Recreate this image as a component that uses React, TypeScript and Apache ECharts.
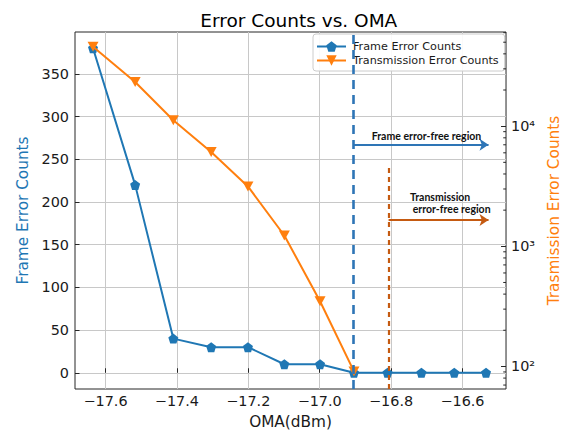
import React, { useEffect, useRef } from 'react';
import * as echarts from 'echarts';

// ---- data ----
const omaFrame = [-17.635, -17.517, -17.41, -17.304, -17.201, -17.099, -16.999, -16.904, -16.81, -16.715, -16.623, -16.534];
const frameErrors = [380, 220, 40, 30, 30, 10, 10, 0, 0, 0, 0, 0];
const omaTrans = [-17.635, -17.517, -17.41, -17.304, -17.201, -17.099, -16.999, -16.904];
const transErrors = [45900, 23300, 11200, 6090, 3150, 1230, 349, 91];

// ---- axes ----
const xTicks = [-17.6, -17.4, -17.2, -17.0, -16.8, -16.6];
const leftTicks = [0, 50, 100, 150, 200, 250, 300, 350];
const rightMajorTicks = [100, 1000, 10000];
const rightMinorTicks = [
  70, 80, 90,
  200, 300, 400, 500, 600, 700, 800, 900,
  2000, 3000, 4000, 5000, 6000, 7000, 8000, 9000,
  20000, 30000, 40000, 50000, 60000,
];
const xRange = [-17.6855, -16.478];
const leftRange = [-19, 399];
const rightRange = [64.9, 60800];

// ---- annotations (in data units) ----
const frameFreeX = [-16.905, -16.527];
const frameFreeY = 267;
const transFreeX = [-16.807, -16.527];
const transFreeY = 179;
const transDashTop = 243.6;

const BLUE = '#1f77b4';
const ORANGE = '#ff7f0e';
const ANN_BLUE = '#2e75b6';
const ANN_ORANGE = '#c55a11';
const FONT = 'DejaVu Sans';
const AXIS_DARK = '#262626';

const PENTAGON = 'path://M5,0 L10,3.8 L8.1,10 L1.9,10 L0,3.8 Z';
const TRI_DOWN = 'path://M0,0 L10,0 L5,9 Z';

const sup: Record<string, string> = { '0': '⁰', '1': '¹', '2': '²', '3': '³', '4': '⁴', '5': '⁵' };

export default function App() {
  const ref = useRef<HTMLDivElement>(null);
  useEffect(() => {
    if (!ref.current) return;
    const chart = echarts.init(ref.current, undefined, { renderer: 'svg' });
    const fmtX = (v: number) => (v < 0 ? '\u2212' : '') + Math.abs(v).toFixed(1);
    const fmtLog = (v: number) => {
      const e = Math.round(Math.log10(v));
      return '10' + String(e).split('').map((c) => sup[c]).join('');
    };
    const annText = (text: string, x: number, y: number, align: string) => ({
      type: 'text',
      x,
      y,
      z: 10,
      style: { text, align, verticalAlign: 'middle', fontFamily: 'Lato', fontWeight: 'bold', fontSize: 10.5, fill: '#111' },
    });
    const texts = [
      annText('Frame error-free region', 426.5, 136, 'center'),
      annText('Transmission', 410, 196.7, 'left'),
      annText('error-free region', 412.7, 209.3, 'left'),
    ];
    chart.setOption({
      animation: false,
      backgroundColor: '#ffffff',
      textStyle: { fontFamily: FONT },
      title: {
        text: 'Error Counts vs. OMA',
        left: 293.8,
        textAlign: 'center',
        top: 6,
        textStyle: { fontFamily: FONT, fontSize: 18.5, fontWeight: 'normal', color: '#000' },
      },
      legend: {
        orient: 'vertical',
        left: 313,
        top: 34,
        padding: [7, 6, 5, 3],
        itemGap: 3,
        itemWidth: 29,
        itemHeight: 13,
        backgroundColor: 'rgba(255,255,255,0.9)',
        borderColor: '#cccccc',
        borderWidth: 1,
        borderRadius: 3,
        textStyle: { fontFamily: FONT, fontSize: 11.2, color: '#1a1a1a', padding: [0, 0, 0, 2] },
        data: ['Frame Error Counts', 'Transmission Error Counts'],
      },
      grid: {
        left: 75,
        right: 56.3,
        top: 32,
        bottom: 43,
        show: true,
        borderColor: AXIS_DARK,
        borderWidth: 1,
        backgroundColor: 'transparent',
      },
      xAxis: {
        type: 'value',
        min: xRange[0],
        max: xRange[1],
        name: 'OMA(dBm)',
        nameLocation: 'middle',
        nameGap: 25,
        nameTextStyle: { fontFamily: FONT, fontSize: 15.3, color: '#1a1a1a' },
        axisLine: { show: false },
        axisTick: { show: true, inside: true, length: 4.5, customValues: xTicks, lineStyle: { color: AXIS_DARK } },
        axisLabel: { customValues: xTicks, formatter: fmtX, fontFamily: FONT, fontSize: 14.4, color: '#1a1a1a', margin: 5 },
        splitLine: { show: true, lineStyle: { color: '#c8c8c8', width: 1 } },
      },
      yAxis: [
        {
          type: 'value',
          min: leftRange[0],
          max: leftRange[1],
          name: 'Frame Error Counts',
          nameLocation: 'middle',
          nameGap: 45,
          nameTextStyle: { fontFamily: FONT, fontSize: 15.3, color: BLUE },
          axisLine: { show: false },
          axisTick: { show: true, inside: true, length: 4.5, customValues: leftTicks, lineStyle: { color: AXIS_DARK } },
          axisLabel: { customValues: leftTicks, fontFamily: FONT, fontSize: 14.4, color: '#1a1a1a', margin: 6 },
          splitLine: { show: true, lineStyle: { color: '#c8c8c8', width: 1 } },
        },
        {
          type: 'log',
          logBase: 10,
          position: 'right',
          min: rightRange[0],
          max: rightRange[1],
          name: 'Trasmission Error Counts',
          nameLocation: 'middle',
          nameGap: 38,
          nameRotate: 90,
          nameTextStyle: { fontFamily: FONT, fontSize: 15.3, color: ORANGE },
          axisLine: { show: false },
          axisTick: { show: true, inside: true, length: 5, customValues: rightMajorTicks, lineStyle: { color: AXIS_DARK } },
          axisLabel: {
            customValues: rightMajorTicks,
            formatter: fmtLog,
            fontFamily: FONT,
            fontSize: 14.4,
            color: '#1a1a1a',
            margin: 5,
          },
          splitLine: { show: false },
        },
      ],
      series: [
        {
          name: 'Frame Error Counts',
          type: 'line',
          xAxisIndex: 0,
          yAxisIndex: 0,
          data: omaFrame.map((x, i) => [x, frameErrors[i]]),
          symbol: PENTAGON,
          symbolSize: 10,
          symbolKeepAspect: true,
          lineStyle: { color: BLUE, width: 2 },
          itemStyle: { color: BLUE },
          z: 3,
          markLine: {
            silent: true,
            animation: false,
            label: { show: false },
            data: [
              [
                { coord: [frameFreeX[0], leftRange[0]], symbol: 'none' },
                { coord: [frameFreeX[0], leftRange[1]], symbol: 'none' },
              ],
              [
                { coord: [transFreeX[0], leftRange[0]], symbol: 'none', lineStyle: { color: ANN_ORANGE, width: 2.2, type: [5, 4] } },
                { coord: [transFreeX[0], transDashTop], symbol: 'none' },
              ],
              [
                { coord: [frameFreeX[0], frameFreeY], symbol: 'none', lineStyle: { color: ANN_BLUE, width: 2, type: 'solid' } },
                { coord: [frameFreeX[1], frameFreeY], symbol: 'arrow', symbolSize: 9 },
              ],
              [
                { coord: [transFreeX[0], transFreeY], symbol: 'none', lineStyle: { color: ANN_ORANGE, width: 2, type: 'solid' } },
                { coord: [transFreeX[1], transFreeY], symbol: 'arrow', symbolSize: 9 },
              ],
            ],
            lineStyle: { color: ANN_BLUE, width: 2.6, type: [9, 6] },
          },
        },
        {
          name: 'Transmission Error Counts',
          type: 'line',
          xAxisIndex: 0,
          yAxisIndex: 1,
          data: omaTrans.map((x, i) => [x, transErrors[i]]),
          symbol: TRI_DOWN,
          symbolSize: 11,
          symbolKeepAspect: true,
          lineStyle: { color: ORANGE, width: 2 },
          itemStyle: { color: ORANGE },
          z: 4,
        },
      ],
      graphic: texts,
    });

    // minor ticks of the log axis, placed through the axis' own scale
    const rightX = chart.convertToPixel({ xAxisIndex: 0 }, xRange[1]) as number;
    const minorTicks = rightMinorTicks.map((v) => {
      const y = chart.convertToPixel({ yAxisIndex: 1 }, v) as number;
      return {
        type: 'line',
        z: 5,
        silent: true,
        shape: { x1: rightX - 2.8, y1: y, x2: rightX, y2: y },
        style: { stroke: AXIS_DARK, lineWidth: 1 },
      };
    });
    chart.setOption({ graphic: [...texts, ...minorTicks] });

    return () => chart.dispose();
  }, []);
  return <div ref={ref} style={{ position: 'fixed', left: 0, top: 0, width: 569, height: 434 }} />;
}
